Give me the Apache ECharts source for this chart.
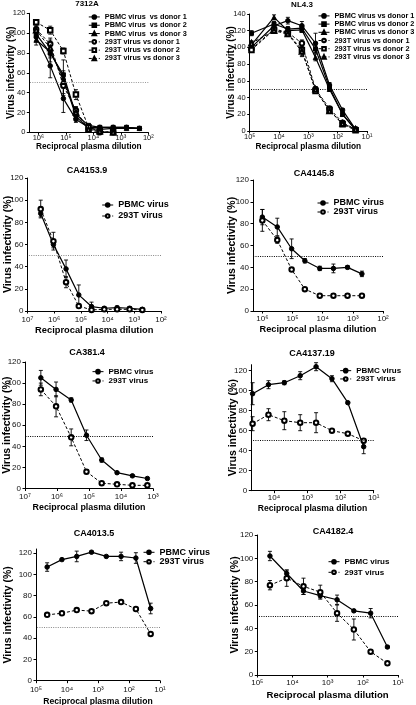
<!DOCTYPE html>
<html><head><meta charset="utf-8">
<script src="https://cdn.jsdelivr.net/npm/echarts@6/dist/echarts.min.js"></script>
<style>html,body{margin:0;padding:0;background:#fff}#c{width:416px;height:705px}</style>
</head><body><div id="c"></div>
<script>
// ---------------- DATA ----------------
// 7312A
const dil_7312A = [1.2e6, 3.7e5, 1.23e5, 4.3e4, 1.5e4, 5.8e3, 1.9e3, 6.2e2, 2.1e2];
const v_7312A_pbmc1 = [96, 67, 34, 13, 5, 5, 5, 5, 4];
const e_7312A_pbmc1 = [4, 12, 14, 3, 1, 1, 1, 1, 1];
const v_7312A_pbmc2 = [99, 80, 58, 18, 7, 5, 5, 5, 4];
const e_7312A_pbmc2 = [3, 5, 4, 2, 1, 0, 0, 0, 0];
const v_7312A_pbmc3 = [93, 81, 55, 16, 4, 3, 4, 4, 4];
const e_7312A_pbmc3 = [5, 10, 18, 4, 1, 0, 0, 0, 0];
const v_7312A_t1 = [104, 89, 47, 22, 3, 0, 0];
const e_7312A_t1 = [3, 6, 8, 3, 1, 0, 0];
const v_7312A_t2 = [111, 103, 82, 38, 5, 1, 0];
const e_7312A_t2 = [2, 4, 3, 5, 1, 0, 0];
const v_7312A_t3 = [103, 85, 51, 20, 3, 1, 0];
const e_7312A_t3 = [5, 8, 6, 6, 1, 0, 0];
// NL4.3
const dil_NL43 = [8.7e4, 1.48e4, 5e3, 1.66e3, 5.7e2, 1.9e2, 68, 24.5];
const v_NL43_pbmc1 = [100, 126, 132, 126, 105, 55, 25, 2];
const e_NL43_pbmc1 = [3, 3, 4, 5, 12, 3, 2, 1];
const v_NL43_pbmc2 = [117, 128, 122, 123, 98, 52, 20, 1];
const e_NL43_pbmc2 = [3, 3, 3, 3, 4, 2, 2, 1];
const v_NL43_pbmc3 = [103, 136, 120, 121, 88, 50, 20, 2];
const e_NL43_pbmc3 = [4, 3, 3, 3, 4, 2, 2, 1];
const v_NL43_t1 = [98, 122, 118, 105, 50, 27, 10, 2];
const e_NL43_t1 = [3, 3, 3, 4, 3, 2, 1, 1];
const v_NL43_t2 = [97, 121, 117, 97, 48, 25, 8, 1];
const e_NL43_t2 = [3, 3, 3, 8, 3, 2, 1, 1];
const v_NL43_t3 = [105, 120, 116, 95, 50, 24, 9, 2];
const e_NL43_t3 = [3, 3, 3, 5, 3, 2, 1, 1];
// CA4153.9
const dil_CA4153 = [3.2e6, 1.07e6, 3.6e5, 1.2e5, 4e4, 1.33e4, 4.4e3, 1.5e3, 5e2];
const v_CA4153_pbmc = [88, 60, 38, 14.5, 4, 2.5, 3, 2.5, 1.5];
const e_CA4153_pbmc = [3, 3, 8, 9, 4, 1, 1.5, 1.5, 1];
const v_CA4153_293t = [92, 63, 26, 4.5, 1, 1.5, 1.5, 1.5, 1];
const e_CA4153_293t = [8, 8, 5, 1, 0.5, 1, 1, 1, 0.5];
// CA4145.8
const dil_CA4145 = [1e6, 3.2e5, 1.07e5, 3.9e4, 1.25e4, 4.4e3, 1.5e3, 5e2];
const v_CA4145_pbmc = [86, 77, 57, 46, 39, 39, 40, 34];
const e_CA4145_pbmc = [7, 8, 9, 2, 2, 4, 1.5, 2.5];
const v_CA4145_293t = [83, 65, 38, 20, 14, 14, 14, 14];
const e_CA4145_293t = [10, 3, 1, 1, 0, 0, 1, 0];
// CA381.4
const dil_CA381 = [3.2e6, 1.07e6, 3.6e5, 1.2e5, 4e4, 1.33e4, 4.4e3, 1.5e3];
const v_CA381_pbmc = [105, 94, 84, 50.5, 27, 15, 12, 9.5];
const e_CA381_pbmc = [7, 7, 2, 5, 2, 1, 1, 1];
const v_CA381_293t = [94, 78, 48.5, 16, 5, 4, 3, 3];
const e_CA381_293t = [6, 10, 8, 2, 1, 1, 1, 1];
// CA4137.19
const dil_CA4137 = [43740, 14580, 4860, 1620, 540, 180, 60, 20];
const v_CA4137_pbmc = [97, 106, 108, 115, 124, 112, 88, 44];
const e_CA4137_pbmc = [11, 4, 2, 4, 4, 3, 1, 7];
const v_CA4137_293t = [67, 76, 70, 68, 68, 60, 57, 50];
const e_CA4137_293t = [7, 6, 9, 8, 10, 1, 1, 2];
// CA4013.5
const dil_CA4013 = [43740, 14580, 4860, 1620, 540, 180, 60, 20];
const v_CA4013_pbmc = [107, 114, 117, 121, 117, 117, 115.5, 68];
const e_CA4013_pbmc = [4, 1, 5, 1, 1, 4, 5, 5];
const v_CA4013_293t = [62, 63.5, 66.5, 65.5, 73, 74, 67.5, 44];
const e_CA4013_293t = [1, 1, 1, 1, 1, 1, 1, 1];
// CA4182.4
const dil_CA4182 = [43740, 14580, 4860, 1620, 540, 180, 60, 20];
const v_CA4182_pbmc = [102, 87, 72, 68, 64.5, 55, 53, 24];
const e_CA4182_pbmc = [4, 3, 3, 2, 4, 1, 4, 1];
const v_CA4182_293t = [77, 83, 76, 71, 53, 39, 20, 10];
const e_CA4182_293t = [4, 7, 7, 6, 7, 9, 1, 1];
// tick labels
const ticksX_7312A = [1e6, 1e5, 1e4, 1e3, 1e2];
const ticksX_NL43 = [1e5, 1e4, 1e3, 1e2, 1e1];
const ticksX_CA4153 = [1e7, 1e6, 1e5, 1e4, 1e3, 1e2];
const ticksX_CA4145 = [1e6, 1e5, 1e4, 1e3, 1e2];
const ticksX_CA381 = [1e7, 1e6, 1e5, 1e4, 1e3];
const ticksX_CA4137 = [1e4, 1e3, 1e2, 1e1];
const ticksX_CA4013 = [1e5, 1e4, 1e3, 1e2, 1e1];
const ticksX_CA4182 = [1e5, 1e4, 1e3, 1e2, 1e1];
const ticksY_120 = [0, 20, 40, 60, 80, 100, 120];
const ticksY_140 = [0, 20, 40, 60, 80, 100, 120, 140];
const refLine = 50;

// ---------------- LAYOUT / STYLE ----------------
const FONT = '"Liberation Sans", Arial, Helvetica, sans-serif';
const P1 = ['PBMC virus  vs donor 1', 'PBMC virus  vs donor 2', 'PBMC virus  vs donor 3', '293T virus vs donor 1', '293T virus vs donor 2', '293T virus vs donor 3'];
const P2 = ['PBMC virus vs donor 1', 'PBMC virus vs donor 2', 'PBMC virus vs donor 3', '293T virus vs donor 1', '293T virus vs donor 2', '293T virus vs donor 3'];
const SYM6 = ['circle', 'rect', 'triangle', 'emptyCircle', 'emptyRect', 'emptyTriangle'];

const panels = [
  { title: '7312A', tx: 87, ty: 5, ts: 8, g: [29.3, 13.3, 119, 119], xmin: 100, xmax: Math.pow(10, 6.33), xt: ticksX_7312A, xfs: 7.5, xlm: 2, xnfs: 8.3, xng: 10.5,
    ymax: 120, yt: ticksY_120, yfs: 7.5, ynfs: 10, yng: 13, refColor: '#999',
    lg: { left: 88.3, top: 12.8, fs: 7.3, pitch: 8.3 },
    series: [
      [P1[0], dil_7312A, v_7312A_pbmc1, e_7312A_pbmc1],
      [P1[1], dil_7312A, v_7312A_pbmc2, e_7312A_pbmc2],
      [P1[2], dil_7312A, v_7312A_pbmc3, e_7312A_pbmc3],
      [P1[3], dil_7312A, v_7312A_t1, e_7312A_t1],
      [P1[4], dil_7312A, v_7312A_t2, e_7312A_t2],
      [P1[5], dil_7312A, v_7312A_t3, e_7312A_t3]] },
  { title: 'NL4.3', tx: 302, ty: 5.5, ts: 8, g: [249.7, 14, 117.3, 117], xmin: 10, xmax: 1e5, xt: ticksX_NL43, xfs: 7.5, xlm: 2, xnfs: 8.3, xng: 11.8,
    ymax: 140, yt: ticksY_140, yfs: 7.5, ynfs: 10, yng: 13, refColor: '#000',
    lg: { left: 318, top: 11.8, fs: 7.3, pitch: 8.2 },
    series: [
      [P2[0], dil_NL43, v_NL43_pbmc1, e_NL43_pbmc1],
      [P2[1], dil_NL43, v_NL43_pbmc2, e_NL43_pbmc2],
      [P2[2], dil_NL43, v_NL43_pbmc3, e_NL43_pbmc3],
      [P2[3], dil_NL43, v_NL43_t1, e_NL43_t1],
      [P2[4], dil_NL43, v_NL43_t2, e_NL43_t2],
      [P2[5], dil_NL43, v_NL43_t3, e_NL43_t3]] },
  { title: 'CA4153.9', tx: 87, ty: 172, ts: 9, g: [27.5, 178, 133.5, 133], xmin: 100, xmax: 1e7, xt: ticksX_CA4153, xfs: 8, xlm: 5, xnfs: 9.3, xng: 15.3,
    ymax: 120, yt: ticksY_120, yfs: 8, ynfs: 10.5, yng: 13.5, refColor: '#888',
    lg: { left: 101.7, top: 199.5, fs: 9, pitch: 11 },
    series: [
      ['PBMC virus', dil_CA4153, v_CA4153_pbmc, e_CA4153_pbmc],
      ['293T virus', dil_CA4153, v_CA4153_293t, e_CA4153_293t]] },
  { title: 'CA4145.8', tx: 314, ty: 175, ts: 9, g: [253, 180, 130, 131], xmin: 100, xmax: Math.pow(10, 6.31), xt: ticksX_CA4145, xfs: 8, xlm: 3.3, xnfs: 9.2, xng: 14.4,
    ymax: 120, yt: ticksY_120, yfs: 8, ynfs: 10.5, yng: 15, refColor: '#000',
    lg: { left: 317, top: 198.5, fs: 9, pitch: 9 },
    series: [
      ['PBMC virus', dil_CA4145, v_CA4145_pbmc, e_CA4145_pbmc],
      ['293T virus', dil_CA4145, v_CA4145_293t, e_CA4145_293t]] },
  { title: 'CA381.4', tx: 87, ty: 354, ts: 9, g: [25, 362, 128, 126.5], xmin: 1000, xmax: 1e7, xt: ticksX_CA381, xfs: 8, xlm: 4.5, xnfs: 8.9, xng: 15,
    ymax: 120, yt: ticksY_120, yfs: 8, ynfs: 10.5, yng: 12, refColor: '#000',
    lg: { left: 92, top: 367, fs: 8, pitch: 9.3 },
    series: [
      ['PBMC virus', dil_CA381, v_CA381_pbmc, e_CA381_pbmc],
      ['293T virus', dil_CA381, v_CA381_293t, e_CA381_293t]] },
  { title: 'CA4137.19', tx: 312, ty: 355, ts: 9, g: [251.3, 364.7, 122.4, 126], xmin: 10, xmax: Math.pow(10, 4.68), xt: ticksX_CA4137, xfs: 8, xlm: 3.3, xnfs: 8.6, xng: 13,
    ymax: 126, yt: ticksY_120, yfs: 8, ynfs: 10.5, yng: 13, refColor: '#000',
    lg: { left: 339.7, top: 366.5, fs: 8, pitch: 8.3 },
    series: [
      ['PBMC virus', dil_CA4137, v_CA4137_pbmc, e_CA4137_pbmc],
      ['293T virus', dil_CA4137, v_CA4137_293t, e_CA4137_293t]] },
  { title: 'CA4013.5', tx: 94, ty: 535, ts: 9, g: [36, 549, 124, 131.7], xmin: 10, xmax: 1e5, xt: ticksX_CA4013, xfs: 8, xlm: 5.3, xnfs: 8.6, xng: 16.7,
    ymax: 124, yt: ticksY_120, yfs: 8, ynfs: 10.5, yng: 22.5, refColor: '#888',
    lg: { left: 143, top: 547.6, fs: 9, pitch: 9.4 },
    series: [
      ['PBMC virus', dil_CA4013, v_CA4013_pbmc, e_CA4013_pbmc],
      ['293T virus', dil_CA4013, v_CA4013_293t, e_CA4013_293t]] },
  { title: 'CA4182.4', tx: 333, ty: 533, ts: 9, g: [257.3, 535, 140.7, 140], xmin: 10, xmax: 1e5, xt: ticksX_CA4182, xfs: 8, xlm: 4, xnfs: 9.6, xng: 15.2,
    ymax: 120, yt: ticksY_120, yfs: 8, ynfs: 10.5, yng: 16.5, refColor: '#000',
    lg: { left: 328, top: 556.4, fs: 8, pitch: 10.6 },
    series: [
      ['PBMC virus', dil_CA4182, v_CA4182_pbmc, e_CA4182_pbmc],
      ['293T virus', dil_CA4182, v_CA4182_293t, e_CA4182_293t]] }
];

function sup(n) { const m = '⁰¹²³⁴⁵⁶⁷⁸⁹'; return String(n).split('').map(d => m[+d]).join(''); }

function errRender(params, api) {
  const x = api.value(0), lo = api.value(1), hi = api.value(2);
  const a = api.coord([x, hi]), b = api.coord([x, lo]);
  const w = 2, st = { stroke: '#000', lineWidth: 0.9 };
  return { type: 'group', children: [
    { type: 'line', shape: { x1: a[0], y1: a[1], x2: b[0], y2: b[1] }, style: st },
    { type: 'line', shape: { x1: a[0] - w, y1: a[1], x2: a[0] + w, y2: a[1] }, style: st },
    { type: 'line', shape: { x1: b[0] - w, y1: b[1], x2: b[0] + w, y2: b[1] }, style: st }
  ] };
}

const option = { animation: false, backgroundColor: '#fff', title: [], grid: [], xAxis: [], yAxis: [], legend: [], series: [] };

panels.forEach((p, i) => {
  option.title.push({ text: p.title, left: p.tx, top: p.ty - p.ts / 2 - 1, textAlign: 'center', padding: 0,
    textStyle: { fontFamily: FONT, fontWeight: 'bold', fontSize: p.ts, color: '#000' } });
  option.grid.push({ left: p.g[0], top: p.g[1], width: p.g[2], height: p.g[3], containLabel: false, outerBoundsMode: 'none' });
  option.xAxis.push({ type: 'log', logBase: 10, gridIndex: i, inverse: true, min: p.xmin, max: p.xmax,
    name: 'Reciprocal plasma dilution', nameLocation: 'middle', nameGap: p.xng, nameMoveOverlap: false,
    nameTextStyle: { fontFamily: FONT, fontWeight: 'bold', fontSize: p.xnfs, color: '#000' },
    axisLine: { show: true, onZero: false, lineStyle: { color: '#000', width: 1 } },
    axisTick: { show: true, customValues: p.xt, length: 2.5, lineStyle: { color: '#000', width: 1 } },
    axisLabel: { show: true, customValues: p.xt, margin: p.xlm, fontSize: p.xfs, color: '#111', fontFamily: FONT,
      formatter: v => '10' + sup(Math.round(Math.log10(v))) },
    splitLine: { show: false }, minorTick: { show: false } });
  option.yAxis.push({ type: 'value', gridIndex: i, min: 0, max: p.ymax,
    name: 'Virus infectivity (%)', nameLocation: 'middle', nameGap: p.yng, nameMoveOverlap: false,
    nameTextStyle: { fontFamily: FONT, fontWeight: 'bold', fontSize: p.ynfs, color: '#000' },
    axisLine: { show: true, onZero: false, lineStyle: { color: '#000', width: 1 } },
    axisTick: { show: true, customValues: p.yt, length: 2.5, lineStyle: { color: '#000', width: 1 } },
    axisLabel: { show: true, customValues: p.yt, margin: 4, fontSize: p.yfs, color: '#111', fontFamily: FONT },
    splitLine: { show: false } });
  option.legend.push({ orient: 'vertical', left: p.lg.left, top: p.lg.top, padding: 0, itemGap: 0, itemWidth: 11, itemHeight: 4.5,
    selectedMode: false, data: p.series.map(s => s[0]),
    lineStyle: { width: 1 },
    textStyle: { fontFamily: FONT, fontWeight: 'bold', fontSize: p.lg.fs, lineHeight: p.lg.pitch, color: '#000' } });
  const six = p.series.length === 6;
  p.series.forEach((s, j) => {
    const [name, xs, ys, es] = s;
    const isT = six ? j >= 3 : j === 1;
    const sym = six ? SYM6[j] : (isT ? 'emptyCircle' : 'circle');
    const ser = { type: 'line', name: name, xAxisIndex: i, yAxisIndex: i,
      data: ys.map((y, k) => [xs[k], y]), symbol: sym, symbolSize: sym.indexOf('rect') >= 0 ? 4 : 4.5,
      lineStyle: { color: '#000', width: isT ? 1 : 1.2, type: isT ? [3, 2] : 'solid' },
      itemStyle: { color: '#000', borderColor: '#000', borderWidth: 1 }, z: 3 };
    if (j === 0) {
      ser.markLine = { silent: true, symbol: ['none', 'none'], label: { show: false },
        lineStyle: { color: p.refColor, type: [1, 1.3], width: 1 }, data: [{ yAxis: refLine }] };
    }
    option.series.push(ser);
    option.series.push({ type: 'custom', name: 'err-' + i + '-' + j, xAxisIndex: i, yAxisIndex: i, silent: true, z: 2,
      renderItem: errRender, encode: { x: 0, y: [1, 2] },
      data: ys.map((y, k) => [xs[k], y - es[k], y + es[k]]).filter((d, k) => es[k] > 0) });
  });
});

const chart = echarts.init(document.getElementById('c'), null, { renderer: 'canvas', width: 416, height: 705 });
chart.setOption(option);
</script>
</body></html>
